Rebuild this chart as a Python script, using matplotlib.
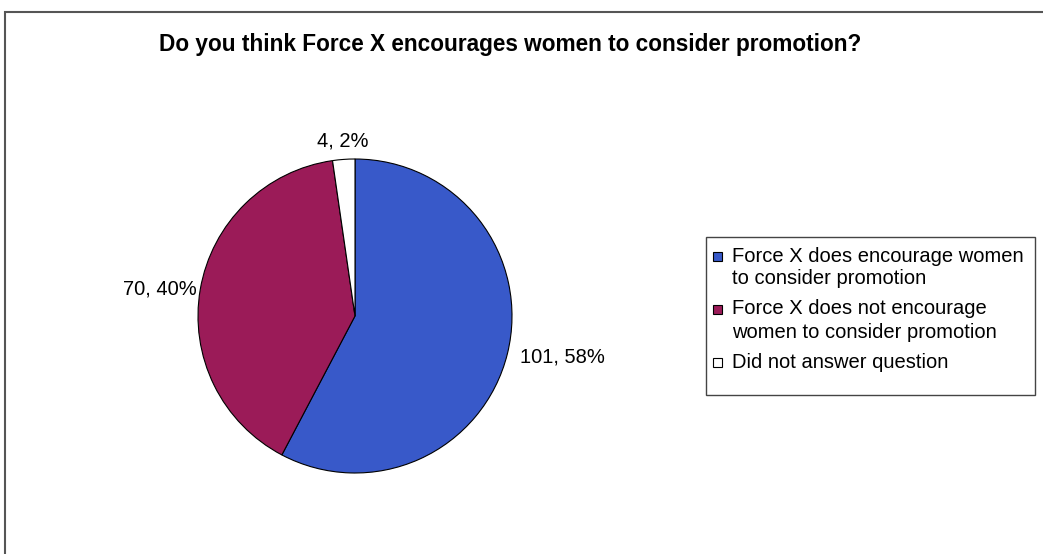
import matplotlib.pyplot as plt
from matplotlib.patches import Rectangle
import numpy as np

plt.rcParams['font.family'] = ['Liberation Sans', 'DejaVu Sans']

title = "Do you think Force X encourages women to consider promotion?"
categories = ["Force X does encourage women\nto consider promotion",
              "Force X does not encourage\nwomen to consider promotion",
              "Did not answer question"]
counts = [101, 70, 4]
percents = [58, 40, 2]
colors = ["#3859c9", "#9b1b58", "#ffffff"]

W, H = 1043, 554
fig = plt.figure(figsize=(W / 100, H / 100), dpi=100)


def fx(px):
    return px / W


def fy(py):
    return 1 - py / H


# outer chart frame (right/bottom run off the picture)
fig.patches.append(Rectangle((fx(5), -0.05), 1.05, fy(12) + 0.05,
                             transform=fig.transFigure, fill=False,
                             edgecolor="#555555", linewidth=1.5))

fig.text(fx(510), fy(45), title, ha="center", va="center",
         fontsize=16.3, fontweight="bold")

# pie axes: centre (355, 316), radius 157 px
cx, cy, r = 355, 316, 157
ax = fig.add_axes([fx(cx - r), fy(cy + r), 2 * r / W, 2 * r / H])
wedges, _ = ax.pie(counts, colors=colors, startangle=90, counterclock=False,
                   wedgeprops=dict(edgecolor="black", linewidth=0.8))
ax.set_xlim(-1, 1)
ax.set_ylim(-1, 1)
ax.set_aspect("equal")
ax.axis("off")

label_style = [(1.08, "left", "center"), (1.02, "right", "center"),
               (1.06, "center", "bottom")]
for w, n, p, (rad, ha, va) in zip(wedges, counts, percents, label_style):
    mid = np.deg2rad((w.theta1 + w.theta2) / 2)
    ax.text(rad * np.cos(mid), rad * np.sin(mid), f"{n}, {p}%",
            ha=ha, va=va, fontsize=14.5, clip_on=False)

# legend box, drawn by hand so the swatch sits on the first text line
fig.patches.append(Rectangle((fx(706), fy(395)), (1035 - 706) / W,
                             (395 - 237) / H, transform=fig.transFigure,
                             fill=False, edgecolor="#444444", linewidth=1.0))
line_h, gap, sw = 23, 7, 9
y = 256
for c, lab in zip(colors, categories):
    fig.patches.append(Rectangle((fx(713), fy(y + sw / 2)), sw / W, sw / H,
                                 transform=fig.transFigure, facecolor=c,
                                 edgecolor="black", linewidth=0.8))
    for line in lab.split("\n"):
        fig.text(fx(732), fy(y), line, ha="left", va="center", fontsize=14.5)
        y += line_h
    y += gap

fig.savefig("out.png", dpi=100)
